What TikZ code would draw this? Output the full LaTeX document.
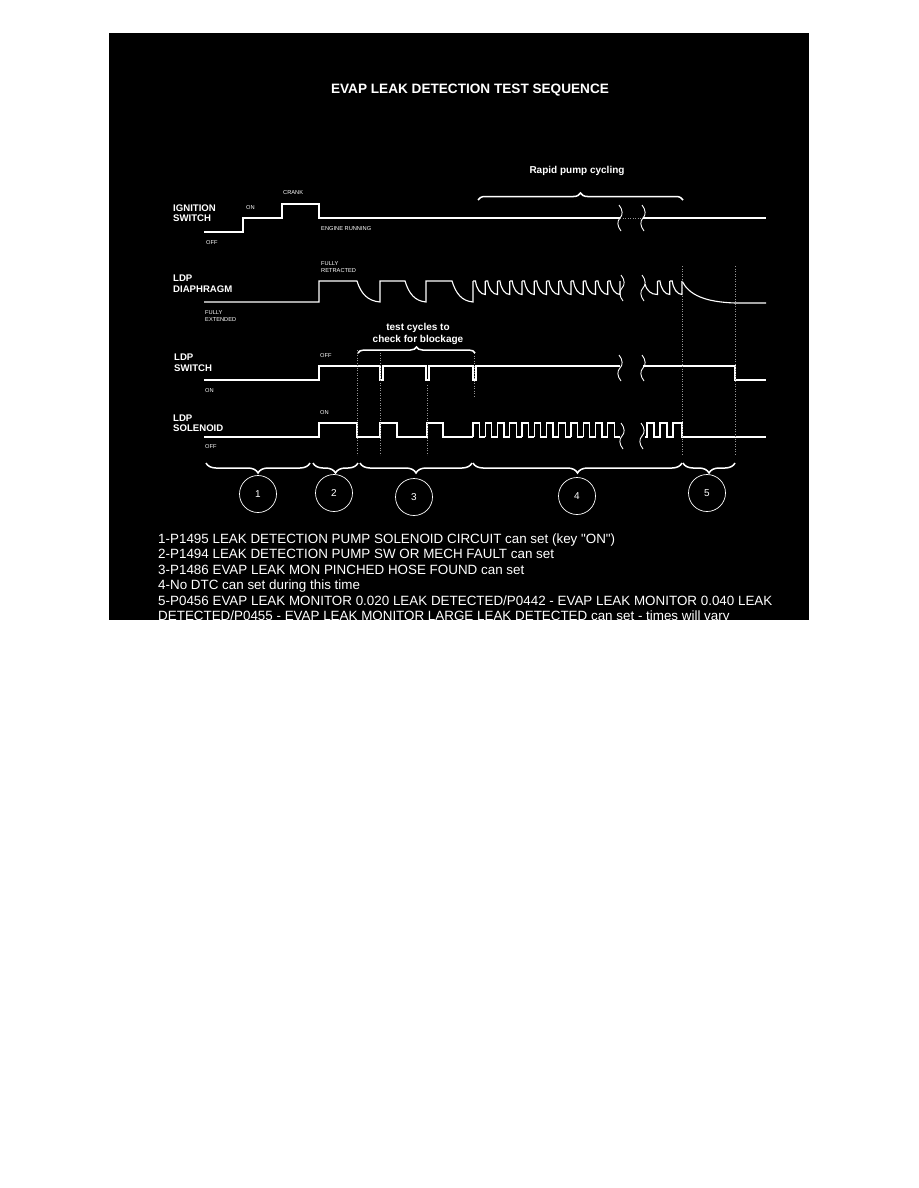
\documentclass[tikz,border=0pt]{standalone}
\usepackage{fontspec}
\setmainfont{Liberation Sans}[Ligatures=TeXOff]
\usetikzlibrary{decorations.pathreplacing, positioning}
\definecolor{PanelBlack}{RGB}{0, 0, 0}
\definecolor{GuideGray}{RGB}{150, 150, 150}

\begin{document}
\begin{tikzpicture}[x=1pt, y=-1pt, white,
    signal/.style={draw=white, line width=1.1pt},
    guide/.style={draw=GuideGray, line width=0.5pt, dotted},
    rowlbl/.style={font=\bfseries\fontsize{9.6}{10.5}\selectfont, align=left, anchor=west, inner sep=0pt},
    smalltag/.style={font=\fontsize{5.7}{7}\selectfont, align=left, anchor=west, inner sep=0pt},
    bracetop/.style={draw=white, line width=1.5pt, decorate, decoration={brace, amplitude=7pt}},
    bracebot/.style={draw=white, line width=1.5pt, decorate, decoration={brace, mirror, amplitude=10pt}},
    stage/.style={draw=white, circle, minimum size=37pt, inner sep=0pt, line width=0.7pt, font=\fontsize{10}{12}\selectfont},
    brk/.pic={\draw[white, line width=0.9pt] (-1,-13) .. controls (3,-8) and (3,-3) .. (0,0) .. controls (-3,3) and (-3,8) .. (1,13);}
  ]
  \useasboundingbox[fill=white] (0,0) rectangle (918,1188);
  \fill[PanelBlack] (109,33) rectangle (809,620);

  \node[font=\bfseries\fontsize{13.6}{16}\selectfont] (title) at (470,90) {EVAP LEAK DETECTION TEST SEQUENCE};

  % row labels
  \node[rowlbl] (ignlbl) at (173,213) {IGNITION\\SWITCH};
  \node[rowlbl] (diaphlbl) at (173,283.5) {LDP\\DIAPHRAGM};
  \node[rowlbl] (swlbl) at (174,362.5) {LDP\\SWITCH};
  \node[rowlbl] (sollbl) at (173,423) {LDP\\SOLENOID};

  % level tags
  \node[smalltag] (ignoff) at (206,243) {OFF};
  \node[smalltag] (ignon) at (246,208) {ON};
  \node[smalltag] (igncrank) at (283,193) {CRANK};
  \node[smalltag] (ignrun) at (321,229) {ENGINE RUNNING};
  \node[smalltag] (retracted) at (321,267.5) {FULLY\\RETRACTED};
  \node[smalltag] (extended) at (205,316.5) {FULLY\\EXTENDED};
  \node[smalltag] (swoff) at (320,356) {OFF};
  \node[smalltag] (swon) at (205,391) {ON};
  \node[smalltag] (solon) at (320,413) {ON};
  \node[smalltag] (soloff) at (205,447) {OFF};

  % ignition switch
  \draw[signal] (204,232) -- (243,232) -- (243,218) -- (282,218) -- (282,204) -- (319,204) -- (319,218) -- (620,218);
  \draw[guide] (620,218) -- (643,218);
  \draw[signal] (643,218) -- (766,218);
  \pic at (620,218) {brk};
  \pic at (643,218) {brk};

  % diaphragm
  \draw[signal] (204,302) -- (319,302) -- (319,281) -- (357,281)
    .. controls (361,294) and (368,301) .. (380,302) -- (380,281) -- (405,281)
    .. controls (409,294) and (415,301) .. (426,302) -- (426,281) -- (452,281)
    .. controls (456,294) and (462,301) .. (473,302) -- (473,281);
  \foreach \i in {0,...,11} {
    \pgfmathsetmacro\xa{473+12.25*\i}
    \pgfmathsetmacro\xb{\xa+2.5}
    \pgfmathsetmacro\xc{\xa+12.25}
    \draw[signal] (\xa,281) -- (\xb,281) .. controls (\xb+1,289) and (\xb+5,294.5) .. (\xc,294.5) -- (\xc,281);
  }
  \pic at (622,288) {brk};
  \pic at (643,288) {brk};
  \draw[signal] (645,284) .. controls (647,291) and (651,294.5) .. (657.5,294.5) -- (657.5,281);
  \foreach \xa in {657.5,669.75} {
    \pgfmathsetmacro\xb{\xa+2.5}
    \pgfmathsetmacro\xc{\xa+12.25}
    \draw[signal] (\xa,281) -- (\xb,281) .. controls (\xb+1,289) and (\xb+5,294.5) .. (\xc,294.5) -- (\xc,281);
  }
  \draw[signal] (682,281) .. controls (689,295) and (705,302) .. (735,303) -- (766,303);

  % switch
  \draw[signal] (204,380) -- (319,380) -- (319,366) -- (380,366) -- (380,380) -- (383,380) -- (383,366)
    -- (426,366) -- (426,380) -- (429,380) -- (429,366) -- (473,366) -- (473,380) -- (476,380) -- (476,366) -- (620,366);
  \draw[signal] (643,366) -- (735,366) -- (735,380) -- (766,380);
  \pic at (620,368) {brk};
  \pic at (643,368) {brk};

  % solenoid
  \draw[signal] (204,437) -- (319,437) -- (319,423) -- (357,423) -- (357,437) -- (380,437) -- (380,423) -- (397,423)
    -- (397,437) -- (427,437) -- (427,423) -- (443,423) -- (443,437) -- (473,437);
  \foreach \i in {0,...,11} {
    \pgfmathsetmacro\xa{473+12.25*\i}
    \pgfmathsetmacro\xb{\xa+6.5}
    \pgfmathsetmacro\xc{\xa+12.25}
    \draw[signal] (\xa,437) -- (\xa,423) -- (\xb,423) -- (\xb,437) -- (\xc,437);
  }
  \pic at (622,436) {brk};
  \pic at (642,436) {brk};
  \draw[signal] (645,437) -- (647,437) -- (647,423) -- (654,423) -- (654,437) -- (660,437) -- (660,423) -- (667,423)
    -- (667,437) -- (673,437) -- (673,423) -- (682,423) -- (682,437) -- (766,437);

  % guides
  \foreach \gx/\ya/\yb in {357/350/455, 380/350/455, 427/385/455, 474/353/397, 682/266/455, 735/266/455}
    \draw[guide] (\gx,\ya) -- (\gx,\yb);

  % braces
  \draw[bracetop] (478,200) -- (683,200);
  \node[font=\bfseries\fontsize{10}{12}\selectfont] (rapid) at (577,171) {Rapid pump cycling};
  \draw[bracetop, decoration={amplitude=6pt}] (358,353) -- (475,353);
  \node[font=\bfseries\fontsize{10}{12}\selectfont, align=center] (testcyc) at (418,334) {test cycles to\\check for blockage};

  \coordinate (s0) at (206,463);
  \coordinate (s1) at (310,463);
  \coordinate (s2) at (313,463);
  \coordinate (s3) at (358,463);
  \coordinate (s4) at (360,463);
  \coordinate (s5) at (472,463);
  \coordinate (s6) at (473,463);
  \coordinate (s7) at (682,463);
  \coordinate (s8) at (683,463);
  \coordinate (s9) at (735,463);
  \draw[bracebot] (s0) -- (s1);
  \draw[bracebot] (s2) -- (s3);
  \draw[bracebot] (s4) -- (s5);
  \draw[bracebot] (s6) -- (s7);
  \draw[bracebot] (s8) -- (s9);

  \node[stage] (c1) at (258,494) {1};
  \node[stage] (c2) at (334,493) {2};
  \node[stage] (c3) at (414,497) {3};
  \node[stage] (c4) at (577,496) {4};
  \node[stage] (c5) at (707,493) {5};

  % notes
  \begin{scope}
    \clip (109,33) rectangle (809,620);
    \node[anchor=north west, align=left, inner sep=0pt, font=\fontsize{13.4}{15.5}\selectfont] (notes) at (158,533.3)
      {1-P1495 LEAK DETECTION PUMP SOLENOID CIRCUIT can set (key "ON")\\
       2-P1494 LEAK DETECTION PUMP SW OR MECH FAULT can set\\
       3-P1486 EVAP LEAK MON PINCHED HOSE FOUND can set\\
       4-No DTC can set during this time\\
       5-P0456 EVAP LEAK MONITOR 0.020 LEAK DETECTED/P0442 - EVAP LEAK MONITOR 0.040 LEAK\\
       DETECTED/P0455 - EVAP LEAK MONITOR LARGE LEAK DETECTED can set - times will vary};
  \end{scope}
\end{tikzpicture}
\end{document}
